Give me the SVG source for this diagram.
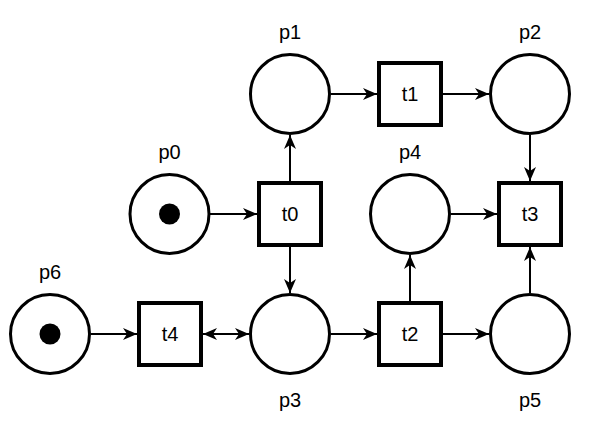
<svg xmlns="http://www.w3.org/2000/svg" width="602" height="426" viewBox="0 0 602 426">
<defs>
<style>
.place{fill:#fff;stroke:#000;stroke-width:3}
.trans{fill:#fff;stroke:#000;stroke-width:4}
.tok{fill:#000}
.lbl{font-family:"Liberation Sans",Arial,Helvetica,sans-serif;font-size:20px;fill:#000;text-anchor:middle}
.arc{stroke:#000;stroke-width:2;fill:none;marker-end:url(#ah)}
</style>
<marker id="ah" markerUnits="userSpaceOnUse" markerWidth="16" markerHeight="14" refX="14" refY="6.5" orient="auto-start-reverse" viewBox="0 0 16 14">
<path d="M0,0.5 L14,6.5 L0,12.5 L4,6.5 Z" fill="#000"/>
</marker>
</defs>
<rect width="602" height="426" fill="#fff"/>
<g id="connectors">
<line class="arc" x1="210" y1="214" x2="257" y2="214"/>
<line class="arc" x1="290" y1="181" x2="290" y2="135"/>
<line class="arc" x1="290" y1="247" x2="290" y2="293"/>
<line class="arc" x1="331" y1="94" x2="377" y2="94"/>
<line class="arc" x1="443" y1="94" x2="489" y2="94"/>
<line class="arc" x1="530" y1="135" x2="530" y2="181"/>
<line class="arc" x1="451" y1="214" x2="497" y2="214"/>
<line class="arc" x1="530" y1="293" x2="530" y2="247"/>
<line class="arc" x1="410" y1="301" x2="410" y2="255"/>
<line class="arc" x1="331" y1="334" x2="377" y2="334"/>
<line class="arc" x1="443" y1="334" x2="489" y2="334"/>
<line class="arc" x1="91" y1="334" x2="137" y2="334"/>
<line class="arc" x1="203" y1="334" x2="249" y2="334" marker-start="url(#ah)"/>
</g>
<g id="p0"><circle class="place" cx="169.5" cy="214" r="39.5"/><circle class="tok" cx="169.5" cy="214" r="10.5"/><text class="lbl" x="169.5" y="159">p0</text></g>
<g id="p1"><circle class="place" cx="290" cy="94" r="39.5"/><text class="lbl" x="290" y="39">p1</text></g>
<g id="p2"><circle class="place" cx="530" cy="94" r="39.5"/><text class="lbl" x="530" y="39">p2</text></g>
<g id="p3"><circle class="place" cx="290" cy="334" r="39.5"/><text class="lbl" x="290" y="407">p3</text></g>
<g id="p4"><circle class="place" cx="410" cy="214" r="39.5"/><text class="lbl" x="410" y="159">p4</text></g>
<g id="p5"><circle class="place" cx="530" cy="334" r="39.5"/><text class="lbl" x="530" y="407">p5</text></g>
<g id="p6"><circle class="place" cx="50" cy="334" r="39.5"/><circle class="tok" cx="50" cy="334" r="10.5"/><text class="lbl" x="50" y="279">p6</text></g>
<g id="t0"><rect class="trans" x="259" y="183" width="62" height="62"/><text class="lbl" x="290" y="221">t0</text></g>
<g id="t1"><rect class="trans" x="379" y="63" width="62" height="62"/><text class="lbl" x="410" y="101">t1</text></g>
<g id="t2"><rect class="trans" x="379" y="303" width="62" height="62"/><text class="lbl" x="410" y="341">t2</text></g>
<g id="t3"><rect class="trans" x="499" y="183" width="62" height="62"/><text class="lbl" x="530" y="221">t3</text></g>
<g id="t4"><rect class="trans" x="139" y="303" width="62" height="62"/><text class="lbl" x="170" y="341">t4</text></g>
</svg>
